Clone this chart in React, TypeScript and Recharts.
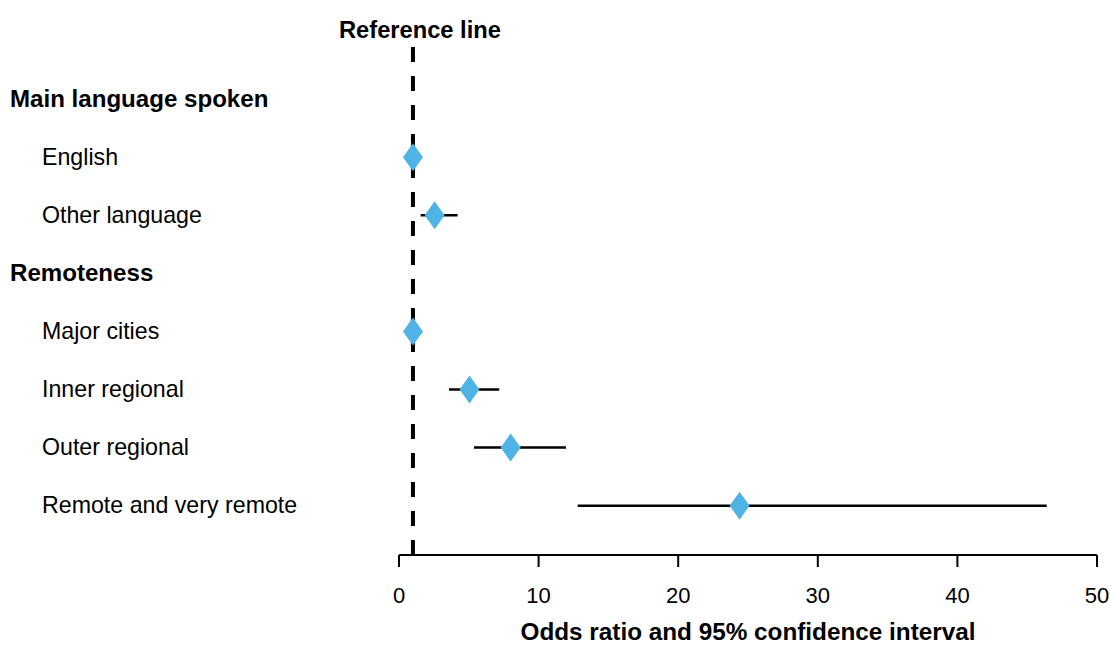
import {
  ScatterChart, Scatter, XAxis, YAxis, ErrorBar, ReferenceLine, Label,
} from 'recharts'

// rows from top to bottom; headings carry no estimate
const rowLabels = [
  'Main language spoken',
  'English',
  'Other language',
  'Remoteness',
  'Major cities',
  'Inner regional',
  'Outer regional',
  'Remote and very remote',
]
const headingRows = [0, 3]
const oddsRatio = [null, 1, 2.55, null, 1, 5.05, 8.0, 24.4]
const ciLow = [null, 1, 1.55, null, 1, 3.58, 5.37, 12.8]
const ciHigh = [null, 1, 4.2, null, 1, 7.18, 11.96, 46.4]
const xTicks = [0, 10, 20, 30, 40, 50]

const FONT = '"Liberation Sans", Arial, sans-serif'
const DIAMOND = '#4fb3e5'

const points = rowLabels
  .map((_, i) => ({
    row: i,
    or: oddsRatio[i],
    err: oddsRatio[i] == null ? null : [oddsRatio[i]! - ciLow[i]!, ciHigh[i]! - oddsRatio[i]!],
  }))
  .filter(d => d.or != null)

function Diamond({ cx, cy }: any) {
  if (cx == null || cy == null) return null
  return (
    <polygon
      points={`${cx},${cy - 14} ${cx + 10},${cy} ${cx},${cy + 14} ${cx - 10},${cy}`}
      fill={DIAMOND}
    />
  )
}

function RowTick({ y, payload }: any) {
  const i = payload.value
  const heading = headingRows.includes(i)
  return (
    <text
      x={heading ? 10 : 42}
      y={y - 1}
      dy="0.36em"
      fontFamily={FONT}
      fontSize={heading ? 24.1 : 23.2}
      fontWeight={heading ? 'bold' : 'normal'}
      fill="#000"
    >
      {rowLabels[i]}
    </text>
  )
}

function RefLabel({ viewBox }: any) {
  return (
    <text
      x={viewBox.x + 7}
      y={viewBox.y - 9}
      textAnchor="middle"
      fontFamily={FONT}
      fontSize={23.7}
      fontWeight="bold"
      fill="#000"
    >
      Reference line
    </text>
  )
}

export default function App() {
  return (
    <div style={{ position: 'absolute', left: 0, top: 0, background: '#fff' }}>
      <ScatterChart
        width={1110}
        height={645}
        margin={{ top: 47, right: 13, bottom: 0, left: 0 }}
      >
        <XAxis
          type="number"
          dataKey="or"
          domain={[0, 50]}
          ticks={xTicks}
          interval={0}
          height={90}
          tickSize={12}
          tickMargin={20}
          axisLine={{ stroke: '#000', strokeWidth: 2 }}
          tickLine={{ stroke: '#000', strokeWidth: 2 }}
          tick={{ fill: '#000', fontSize: 22, fontFamily: FONT }}
        >
          <Label
            value="Odds ratio and 95% confidence interval"
            position="insideBottom"
            offset={5}
            style={{ fill: '#000', fontSize: 24.3, fontWeight: 'bold', fontFamily: FONT }}
          />
        </XAxis>
        <YAxis
          type="number"
          dataKey="row"
          domain={[-0.9, 7.85]}
          reversed
          allowDataOverflow
          ticks={rowLabels.map((_, i) => i)}
          interval={0}
          width={399}
          axisLine={false}
          tickLine={false}
          tick={<RowTick />}
        />
        <ReferenceLine
          x={1}
          stroke="#000"
          strokeWidth={4}
          strokeDasharray="15 14"
          label={<RefLabel />}
        />
        <Scatter data={points} shape={<Diamond />} isAnimationActive={false}>
          <ErrorBar
            dataKey="err"
            direction="x"
            width={0}
            stroke="#000"
            strokeWidth={2.5}
            isAnimationActive={false}
          />
        </Scatter>
      </ScatterChart>
    </div>
  )
}
